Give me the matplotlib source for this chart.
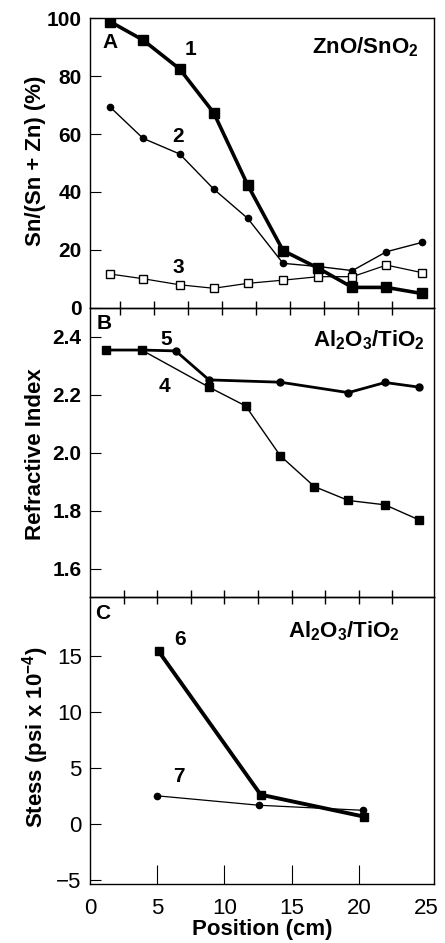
import matplotlib
matplotlib.use("Agg")
import matplotlib.pyplot as plt

plt.rcParams['font.family'] = ['Liberation Sans', 'DejaVu Sans']
plt.rcParams['font.weight'] = 'bold'
plt.rcParams['mathtext.fontset'] = 'custom'
plt.rcParams['mathtext.rm'] = 'Liberation Sans:bold'
plt.rcParams['mathtext.it'] = 'Liberation Sans:bold'
plt.rcParams['mathtext.bf'] = 'Liberation Sans:bold'

# panel A: ZnO/SnO2 composition
pos_a = [1.8, 4.2, 6.9, 9.4, 11.9, 14.5, 17.1, 19.6, 22.1, 24.7]
sn_1 = [98.7, 92.4, 82.4, 67.3, 42.4, 19.8, 13.7, 7.1, 7.1, 5.0]
sn_2 = [69.2, 58.5, 53.1, 41.0, 30.9, 15.4, 14.3, 12.9, 19.4, 22.6]
sn_3 = [11.7, 10.1, 8.0, 6.8, 8.5, 9.6, 10.8, 10.8, 14.8, 12.2]

# panel B: refractive index
pos_4 = [1.5, 4.1, 9.05, 11.75, 14.3, 16.8, 19.3, 22.0, 24.5]
n_4 = [2.355, 2.355, 2.227, 2.162, 1.99, 1.884, 1.836, 1.821, 1.769]
pos_5 = [1.5, 4.1, 6.6, 9.05, 14.3, 19.3, 22.0, 24.5]
n_5 = [2.355, 2.355, 2.352, 2.252, 2.244, 2.208, 2.243, 2.227]

# panel C: stress
pos_6 = [5.1, 12.7, 20.4]
stress_6 = [15.45, 2.6, 0.63]
pos_7 = [4.96, 12.6, 20.3]
stress_7 = [2.5, 1.65, 1.2]

edge_ticks = [2.5, 5, 7.5, 10, 12.5, 15, 17.5, 20, 22.5]

fig = plt.figure(figsize=(4.45, 9.43), dpi=100)
L, W = 90 / 445, 344 / 445
def frac(top, bot):
    return [L, 1 - bot / 943, W, (bot - top) / 943]

axA = fig.add_axes(frac(18, 308))
axB = fig.add_axes(frac(308, 597))
axC = fig.add_axes(frac(597, 884))

fs = 15
axA.plot(pos_a, sn_1, '-s', color='k', lw=2.6, ms=6.5)
axA.plot(pos_a, sn_2, '-o', color='k', lw=1.0, ms=4.5)
axA.plot(pos_a, sn_3, '-s', color='k', lw=0.9, ms=6, mfc='white', mew=1.0)
axA.set_ylim(0, 100)
axA.set_yticks([0, 20, 40, 60, 80, 100])
axA.text(0.058, 0.914, 'A', transform=axA.transAxes, fontsize=fs, ha='center', va='center')
axA.text(7.7, 89, '1', fontsize=fs, ha='center', va='center')
axA.text(6.8, 59, '2', fontsize=fs, ha='center', va='center')
axA.text(6.8, 14, '3', fontsize=fs, ha='center', va='center')
axA.text(0.955, 0.9, 'ZnO/SnO$_2$', transform=axA.transAxes, fontsize=16, ha='right', va='center')

axB.plot(pos_4, n_4, '-s', color='k', lw=1.0, ms=5.5)
axB.plot(pos_5, n_5, '-o', color='k', lw=2.0, ms=5)
axB.set_ylim(1.503, 2.5)
axB.set_yticks([1.6, 1.8, 2.0, 2.2, 2.4])
axB.yaxis.set_major_formatter(matplotlib.ticker.FormatStrFormatter('%.1f'))
axB.text(0.04, 0.948, 'B', transform=axB.transAxes, fontsize=fs, ha='center', va='center')
axB.text(5.9, 2.39, '5', fontsize=fs, ha='center', va='center')
axB.text(5.8, 2.23, '4', fontsize=fs, ha='center', va='center')
axB.text(0.975, 0.89, 'Al$_2$O$_3$/TiO$_2$', transform=axB.transAxes, fontsize=16, ha='right', va='center')

axC.plot(pos_6, stress_6, '-s', color='k', lw=2.8, ms=5.5)
axC.plot(pos_7, stress_7, '-o', color='k', lw=0.9, ms=4.5)
axC.set_ylim(-5.4, 20.3)
axC.set_yticks([-5, 0, 5, 10, 15])
axC.text(0.038, 0.944, 'C', transform=axC.transAxes, fontsize=fs, ha='center', va='center')
axC.text(6.7, 16.5, '6', fontsize=fs, ha='center', va='center')
axC.text(6.6, 4.2, '7', fontsize=fs, ha='center', va='center')
axC.text(0.9, 0.88, 'Al$_2$O$_3$/TiO$_2$', transform=axC.transAxes, fontsize=16, ha='right', va='center')

for ax in (axA, axB, axC):
    ax.set_xlim(0.3, 25.6)
    ax.patch.set_visible(False)
    ax.tick_params(axis='y', direction='in', length=8, width=0.8, labelsize=fs, pad=6)
    for s in ax.spines.values():
        s.set_linewidth(1.0)

axA.tick_params(axis='x', bottom=False, labelbottom=False)

# ticks along the panel boundaries
axB.set_xticks(edge_ticks)
axB.tick_params(axis='x', bottom=False, labelbottom=False, top=True,
                direction='inout', length=10, width=1.0)

axC.xaxis.remove_overlapping_locs = False
axC.set_xticks([0, 5, 10, 15, 20, 25])
axC.set_xticks(edge_ticks, minor=True)
axC.tick_params(axis='x', which='minor', bottom=False, top=True,
                direction='inout', length=10, width=1.0)
axC.tick_params(axis='x', which='major', direction='in', length=14, width=0.8,
                labelsize=16, pad=10)
axC.tick_params(axis='y', labelsize=16)
for lab in axC.get_xticklabels() + axC.get_yticklabels():
    lab.set_fontweight('normal')
axC.xaxis.get_major_ticks()[0].tick1line.set_visible(False)
axC.xaxis.get_major_ticks()[-1].tick1line.set_visible(False)
axC.set_xlabel('Position (cm)', fontsize=16, fontweight='bold', labelpad=0)

fig.text(36 / 445, 1 - 161 / 943, 'Sn/(Sn + Zn) (%)', rotation=90, fontsize=16, ha='center', va='center')
fig.text(36 / 445, 1 - 454 / 943, 'Refractive Index', rotation=90, fontsize=16, ha='center', va='center')
fig.text(36 / 445, 1 - 737 / 943, 'Stess (psi x 10$^{-4}$)', rotation=90, fontsize=16, ha='center', va='center')

fig.savefig('out.png', dpi=100)
